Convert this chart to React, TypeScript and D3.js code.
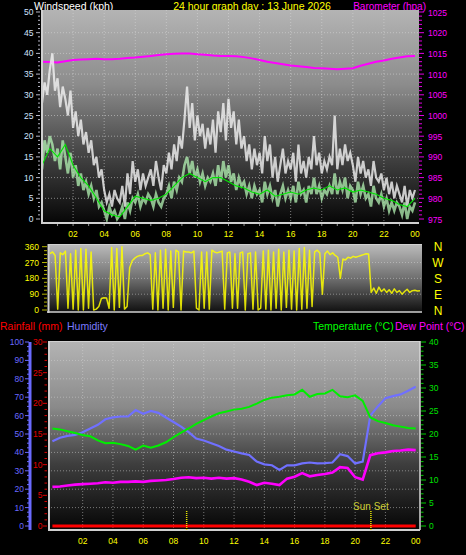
import React from "react";
import * as d3 from "d3";

// ---------- data ----------
const hourTickValues = [2, 4, 6, 8, 10, 12, 14, 16, 18, 20, 22, 24];
const hourTickLabels = ["02", "04", "06", "08", "10", "12", "14", "16", "18", "20", "22", "00"];

// wind gust (kph), every 10 minutes, 00:00 .. 24:00
const windGust = [
  28, 33, 30, 36, 40, 31,
  34, 27, 32, 29, 25, 31,
  22, 26, 20, 24, 18, 21,
  16, 19, 13, 15, 10, 12,
  7, 4, 6, 3, 7, 5,
  4, 8, 3, 11, 6, 14,
  9, 12, 7, 11, 8, 10,
  12, 8, 14, 10, 7, 13,
  11, 16, 12, 18, 14, 20,
  17, 24, 32, 22, 28, 19,
  25, 20, 23, 17, 22, 18,
  24, 16, 26, 21, 28, 19,
  29, 22, 26, 18, 24, 17,
  20, 14, 18, 12, 17, 13,
  16, 11, 20, 14, 18, 10,
  15, 9, 13, 17, 11, 14,
  12, 16, 9, 18, 11, 14,
  10, 15, 12, 20, 13, 16,
  11, 14, 12, 15, 13, 25,
  12, 17, 13, 18, 14, 16,
  13, 9, 15, 11, 14, 10,
  12, 8, 14, 10, 9, 11,
  7, 10, 6, 9, 5, 8,
  6, 4, 8, 3, 7, 5,
  7,
];

// wind speed (kph), every 10 minutes
const windSpeed = [
  12, 19, 16, 20, 18, 14,
  17, 12, 19, 15, 11, 16,
  10, 13, 8, 11, 7, 9,
  6, 8, 5, 7, 3, 4,
  2, 0, 3, 1, 2, 0,
  1, 3, 0, 4, 2, 5,
  4, 6, 3, 5, 4, 6,
  5, 3, 6, 4, 3, 5,
  6, 8, 5, 9, 7, 10,
  9, 13, 15, 11, 14, 10,
  12, 9, 11, 8, 10, 9,
  11, 8, 13, 9, 14, 10,
  13, 9, 11, 7, 10, 8,
  9, 6, 8, 5, 8, 6,
  7, 4, 9, 6, 8, 5,
  7, 3, 6, 8, 5, 7,
  5, 8, 4, 9, 6, 7,
  4, 8, 6, 10, 6, 8,
  5, 7, 6, 8, 6, 11,
  6, 9, 7, 10, 5, 8,
  7, 4, 9, 6, 8, 5,
  6, 3, 8, 5, 4, 6,
  3, 5, 2, 4, 2, 4,
  3, 1, 4, 0, 3, 2,
  4,
];

// average wind (kph), every 30 minutes
const windAverage = [
  13, 17, 15, 18, 13, 10, 8, 5, 2, 1, 0.5, 3, 5.5, 5, 4.5, 5, 6, 8, 10, 11, 10, 9, 10, 10,
  9, 8, 7.5, 6.5, 6, 7, 5.5, 6, 6.5, 6, 7, 7.5, 7, 8, 7, 7.5, 6.5, 7, 6.5, 6, 5, 4.5, 3.5, 3, 5,
];

// barometer (hPa), every 30 minutes
const barometer = [
  1013.0, 1012.9, 1012.8, 1013.1, 1013.4, 1013.5, 1013.6, 1013.7, 1013.6, 1013.6, 1013.7, 1013.9,
  1014.0, 1014.2, 1014.4, 1014.6, 1014.8, 1014.9, 1015.0, 1015.0, 1014.8, 1014.7, 1014.5, 1014.4,
  1014.4, 1014.3, 1014.1, 1013.8, 1013.4, 1013.0, 1012.7, 1012.4, 1012.1, 1011.9, 1011.7, 1011.5,
  1011.4, 1011.3, 1011.2, 1011.3, 1011.4, 1012.0, 1012.5, 1013.0, 1013.3, 1013.7, 1014.0, 1014.3,
  1014.4,
];

// wind direction (degrees), every 10 minutes
const windDirection = [
  320, 330, 310, 5, 325, 315,
  335, 10, 320, 5, 340, 0,
  350, 0, 345, 10, 330, 0,
  5, 20, 65, 70, 68, 10,
  355, 0, 350, 15, 360, 5,
  20, 240, 280, 295, 305, 310,
  310, 320, 325, 315, 5, 325,
  0, 340, 10, 345, 0, 335,
  15, 340, 330, 0, 335, 330,
  330, 325, 335, 10, 0, 330,
  10, 330, 5, 340, 330, 325,
  330, 335, 5, 325, 330, 10,
  320, 10, 325, 330, 0, 320,
  325, 5, 330, 0, 10, 335,
  5, 340, 0, 330, 10, 345,
  0, 330, 15, 340, 5, 335,
  0, 350, 5, 355, 10, 340,
  20, 330, 340, 325, 90, 320,
  335, 315, 325, 310, 300, 180,
  290, 285, 300, 295, 305, 300,
  305, 310, 315, 320, 318, 100,
  125, 95, 130, 105, 120, 100,
  115, 95, 120, 100, 110, 90,
  105, 118, 100, 110, 112, 108,
  110,
];

// temperature (°C), every 30 minutes
const temperature = [
  21.2, 21.0, 20.6, 20.2, 19.8, 19.5, 18.6, 18.0, 18.1, 17.8, 17.4, 16.6, 17.5, 17.0, 17.5, 18.2,
  19.3, 20.3, 21.2, 22.2, 23.0, 23.8, 24.5, 24.9, 25.3, 25.5, 25.9, 26.6, 27.4, 27.9, 28.1, 28.4,
  28.6, 29.6, 28.1, 28.7, 28.8, 29.6, 28.2, 28.0, 28.4, 27.2, 23.6, 22.8, 22.4, 21.9, 21.6, 21.3,
  21.2,
];

// humidity (%), every 30 minutes
const humidity = [
  46, 48, 49, 49.5, 51, 53, 55, 58, 59, 59.5, 59.5, 63, 61, 62.5, 61.5, 59, 56.5, 54, 51, 47.5,
  46.5, 45, 43.5, 41.5, 40.5, 39.5, 38.6, 35, 33.5, 33, 30.5, 33, 33, 34, 34.5, 34, 34.2, 34.5,
  39, 38, 34, 35, 60, 65, 69.5, 70.6, 71.5, 73.5, 75.7,
];

// dew point (°C), every 30 minutes
const dewPoint = [
  8.5, 8.6, 8.8, 9.0, 9.1, 9.2, 9.3, 9.5, 9.4, 9.6, 9.6, 9.7, 9.6, 9.8, 9.9, 10.0, 10.2, 10.5,
  10.6, 10.4, 10.5, 10.3, 10.5, 10.3, 10.4, 10.1, 9.6, 8.9, 9.4, 9.2, 8.9, 10.3, 10.7, 11.5, 10.8,
  11.1, 11.3, 11.6, 12.8, 12.6, 10.6, 10.1, 15.4, 15.8, 16.0, 16.3, 16.4, 16.6, 16.5,
];

// rainfall (mm), hourly
const rainfall = [0, 0, 0, 0, 0, 0, 0, 0, 0, 0, 0, 0, 0, 0, 0, 0, 0, 0, 0, 0, 0, 0, 0, 0, 0];

const sunriseHour = 8.87;
const sunsetHour = 21.04;

const compassDegrees = [360, 270, 180, 90, 0];
const compassLabels = ["N", "W", "S", "E", "N"];

// ---------- chart ----------
const FONT = "'Liberation Sans', Arial, sans-serif";

export default function App() {
  const xTop = d3.scaleLinear().domain([0, 24]).range([42, 415]);
  const yWind = d3.scaleLinear().domain([0, 50]).range([219, 12]);
  const yBaro = d3.scaleLinear().domain([975, 1025]).range([219, 12]);

  const xMid = d3.scaleLinear().domain([0, 24]).range([50, 420]);
  const yDir = d3.scaleLinear().domain([0, 360]).range([310, 246.7]);

  const xBot = d3.scaleLinear().domain([0, 24]).range([52.4, 415.7]);
  const yHum = d3.scaleLinear().domain([0, 100]).range([526, 342]);
  const yRain = d3.scaleLinear().domain([0, 30]).range([526, 342]);
  const yTemp = d3.scaleLinear().domain([0, 40]).range([526, 342]);

  const series = (xs: any, ys: any, step: number) =>
    d3
      .line<number>()
      .x((_, i) => xs(i * step))
      .y((d) => ys(d));

  const gustPath = series(xTop, yWind, 1 / 6)(windGust) || "";
  const speedPath = series(xTop, yWind, 1 / 6)(windSpeed) || "";
  const avgPath = series(xTop, yWind, 0.5)(windAverage) || "";
  const baroPath = series(xTop, yBaro, 0.5)(barometer) || "";
  const dirPath = series(xMid, yDir, 1 / 6)(windDirection) || "";
  const tempPath = series(xBot, yTemp, 0.5)(temperature) || "";
  const humPath = series(xBot, yHum, 0.5)(humidity) || "";
  const dewPath = series(xBot, yTemp, 0.5)(dewPoint) || "";
  const rainPath = series(xBot, yRain, 1)(rainfall) || "";

  const gridColor = "#d8d8d8";
  const hourGrid = hourTickValues.filter((h) => h < 24);

  return (
    <svg
      width={466}
      height={555}
      style={{ position: "absolute", left: 0, top: 0, display: "block" }}
      fontFamily={FONT}
    >
      <defs>
        <linearGradient id="bgTop" x1="0" y1="0" x2="0" y2="1">
          <stop offset="0%" stopColor="#b4b4b4" />
          <stop offset="35%" stopColor="#8c8c8c" />
          <stop offset="65%" stopColor="#4a4a4a" />
          <stop offset="100%" stopColor="#060606" />
        </linearGradient>
        <linearGradient id="bgMid" x1="0" y1="0" x2="0" y2="1">
          <stop offset="0%" stopColor="#bcbcbc" />
          <stop offset="50%" stopColor="#707070" />
          <stop offset="100%" stopColor="#101010" />
        </linearGradient>
        <linearGradient id="bgBot" x1="0" y1="0" x2="0" y2="1">
          <stop offset="0%" stopColor="#b4b4b4" />
          <stop offset="35%" stopColor="#8a8a8a" />
          <stop offset="65%" stopColor="#3e3e3e" />
          <stop offset="100%" stopColor="#050505" />
        </linearGradient>
        <clipPath id="clipTop">
          <rect x={42} y={10} width={377} height={213} />
        </clipPath>
        <clipPath id="clipMid">
          <rect x={48} y={244} width={374} height={68} />
        </clipPath>
        <clipPath id="clipBot">
          <rect x={48} y={341} width={372} height={189} />
        </clipPath>
      </defs>

      <rect x={0} y={0} width={466} height={555} fill="#000" />

      {/* ---------- titles ---------- */}
      <text x={34} y={9.5} fontSize={10.5} fill="#ffffff">Windspeed (kph)</text>
      <text x={252} y={9.5} fontSize={10.5} fill="#ffff00" textAnchor="middle">
        24 hour graph day : 13 June 2026
      </text>
      <text x={426} y={9.5} fontSize={10} fill="#ff00ff" textAnchor="end">Barometer (hpa)</text>

      {/* ---------- top panel ---------- */}
      <rect x={42} y={10} width={377} height={213} fill="url(#bgTop)" />
      {yWind.ticks(10).filter((v) => v > 0 && v < 50).map((v) => (
        <line key={"hg" + v} x1={42} x2={419} y1={yWind(v)} y2={yWind(v)} stroke={gridColor} strokeOpacity={0.55} strokeDasharray="1,2" />
      ))}
      {hourGrid.map((h) => (
        <line key={"vg" + h} x1={xTop(h)} x2={xTop(h)} y1={10} y2={222} stroke={gridColor} strokeOpacity={0.55} strokeDasharray="1,2" />
      ))}
      <g clipPath="url(#clipTop)">
        <path d={baroPath} fill="none" stroke="#ff00ff" strokeWidth={2} />
        <path d={gustPath} fill="none" stroke="#f4f4f4" strokeOpacity={0.8} strokeWidth={2.2} />
        <path d={speedPath} fill="none" stroke="#b4f4b4" strokeOpacity={0.75} strokeWidth={2.6} />
        <path d={avgPath} fill="none" stroke="#00e600" strokeWidth={1.1} />
      </g>
      <line x1={42} x2={42} y1={10} y2={224} stroke="#d0d0d0" strokeWidth={2} />
      <line x1={41} x2={419} y1={223} y2={223} stroke="#d0d0d0" strokeWidth={2} />
      {/* left wind axis */}
      {d3.range(0, 51, 1).map((v) => (
        <line key={"wt" + v} x1={v % 5 === 0 ? 36 : 38} x2={40} y1={yWind(v)} y2={yWind(v)} stroke="#b8b8c8" strokeWidth={1} />
      ))}
      {yWind.ticks(10).map((v) => (
        <text key={"wl" + v} x={33.5} y={yWind(v) + 3} fontSize={8.5} fill="#d2e4ff" textAnchor="end">{v}</text>
      ))}
      {/* right barometer axis */}
      {d3.range(975, 1026, 1).map((v) => (
        <line key={"bt" + v} x1={419} x2={v % 5 === 0 ? 424 : 422} y1={yBaro(v)} y2={yBaro(v)} stroke="#e000e0" strokeWidth={1} />
      ))}
      {yBaro.ticks(10).map((v) => (
        <text key={"bl" + v} x={428} y={yBaro(v) + 3.5} fontSize={8.5} fill="#ff00ff">{v}</text>
      ))}
      {d3.range(1, 24, 1).map((h) => (
        <line key={"ht" + h} x1={xTop(h)} x2={xTop(h)} y1={224} y2={226} stroke="#909090" />
      ))}
      {hourTickValues.map((h, i) => (
        <text key={"tx" + h} x={xTop(h)} y={237} fontSize={8.5} fill="#ffff00" textAnchor="middle">{hourTickLabels[i]}</text>
      ))}

      {/* ---------- middle panel (wind direction) ---------- */}
      <rect x={48} y={244} width={374} height={68} fill="url(#bgMid)" />
      {[90, 180, 270].map((v) => (
        <line key={"dg" + v} x1={48} x2={422} y1={yDir(v)} y2={yDir(v)} stroke={gridColor} strokeOpacity={0.5} strokeDasharray="1,2" />
      ))}
      <g clipPath="url(#clipMid)">
        <path d={dirPath} fill="none" stroke="#ffff00" strokeOpacity={0.85} strokeWidth={1.5} strokeLinejoin="round" />
      </g>
      <line x1={48} x2={422} y1={244.5} y2={244.5} stroke="#d0d0d0" strokeWidth={1} />
      <line x1={48.5} x2={48.5} y1={244} y2={313} stroke="#d0d0d0" strokeWidth={2} />
      <line x1={47} x2={422} y1={312} y2={312} stroke="#d0d0d0" strokeWidth={1.5} />
      {d3.range(0, 361, 22.5).map((v) => (
        <line key={"dt" + v} x1={v % 90 === 0 ? 42 : 44} x2={47} y1={yDir(v)} y2={yDir(v)} stroke="#b4b400" strokeWidth={1} />
      ))}
      {[0, 90, 180, 270, 360].map((v) => (
        <text key={"dl" + v} x={39} y={yDir(v) + 3} fontSize={8.5} fill="#ffff00" textAnchor="end">{v}</text>
      ))}
      {compassDegrees.map((v, i) => (
        <text key={"cl" + i} x={438} y={yDir(v) + 4.5} fontSize={12} fill="#ffff00" textAnchor="middle">{compassLabels[i]}</text>
      ))}

      {/* ---------- bottom panel legends ---------- */}
      <text x={0} y={330} fontSize={10.5} fill="#ff0000">Rainfall (mm)</text>
      <text x={67} y={330} fontSize={10.5} fill="#7b7bff">Humidity</text>
      <text x={313} y={330} fontSize={10.5} fill="#00ff00">Temperature (°C)</text>
      <text x={395} y={330} fontSize={10.5} fill="#ff00ff">Dew Point (°C)</text>

      {/* ---------- bottom panel ---------- */}
      <rect x={48} y={341} width={372} height={189} fill="url(#bgBot)" />
      {yHum.ticks(10).filter((v) => v > 0 && v < 100).map((v) => (
        <line key={"bg" + v} x1={48} x2={420} y1={yHum(v)} y2={yHum(v)} stroke={gridColor} strokeOpacity={0.5} strokeDasharray="1,2" />
      ))}
      {hourGrid.map((h) => (
        <line key={"bvg" + h} x1={xBot(h)} x2={xBot(h)} y1={341} y2={529} stroke={gridColor} strokeOpacity={0.5} strokeDasharray="1,2" />
      ))}
      <g clipPath="url(#clipBot)">
        <path d={dewPath} fill="none" stroke="#ff00ff" strokeWidth={2.6} />
        <path d={humPath} fill="none" stroke="#7070ff" strokeWidth={2.2} />
        <path d={tempPath} fill="none" stroke="#00ee00" strokeWidth={2} />
        <path d={rainPath} fill="none" stroke="#ff0000" strokeWidth={3} />
      </g>
      <line x1={48} x2={420} y1={341.5} y2={341.5} stroke="#d0d0d0" strokeWidth={1} />
      <line x1={420} x2={420} y1={341} y2={530} stroke="#d8d8d8" strokeWidth={1.5} />
      <line x1={49} x2={49} y1={341} y2={531} stroke="#d0d0d0" strokeWidth={2} />
      <line x1={48} x2={420} y1={530} y2={530} stroke="#d0d0d0" strokeWidth={2} />

      {/* sunrise / sunset */}
      <line x1={xBot(sunriseHour)} x2={xBot(sunriseHour)} y1={511} y2={530} stroke="#e8e800" strokeWidth={1.5} strokeDasharray="1,1" />
      <line x1={xBot(sunsetHour)} x2={xBot(sunsetHour)} y1={511} y2={530} stroke="#e8e800" strokeWidth={1.5} strokeDasharray="1,1" />
      <text x={xBot(sunsetHour)} y={510} fontSize={10} fill="#cccc33" textAnchor="middle">Sun Set</text>

      {/* humidity axis */}
      <line x1={30} x2={30} y1={342} y2={530} stroke="#6a6aff" strokeWidth={3} />
      {d3.range(0, 101, 2.5).map((v) => (
        <line key={"hut" + v} x1={v % 10 === 0 ? 25 : 27} x2={29} y1={yHum(v)} y2={yHum(v)} stroke="#6a6aff" strokeWidth={1} />
      ))}
      {yHum.ticks(10).map((v) => (
        <text key={"hul" + v} x={24} y={yHum(v) + 3} fontSize={8.5} fill="#6a6aff" textAnchor="end">{v}</text>
      ))}
      {/* rainfall axis */}
      {d3.range(0, 31, 1).map((v) => (
        <line key={"rt" + v} x1={v % 5 === 0 ? 43 : 44.5} x2={47} y1={yRain(v)} y2={yRain(v)} stroke="#dd0000" strokeWidth={1} />
      ))}
      {yRain.ticks(6).map((v) => (
        <text key={"rl" + v} x={42.5} y={yRain(v) + 3} fontSize={8.5} fill="#e00000" textAnchor="end">{v}</text>
      ))}
      {/* temperature axis */}
      {d3.range(0, 41, 1).map((v) => (
        <line key={"tt" + v} x1={421} x2={v % 5 === 0 ? 426 : 423.5} y1={yTemp(v)} y2={yTemp(v)} stroke="#00cc00" strokeWidth={1} />
      ))}
      {yTemp.ticks(8).map((v) => (
        <text key={"tl" + v} x={429} y={yTemp(v) + 3} fontSize={8.5} fill="#00e000">{v}</text>
      ))}
      {hourTickValues.map((h, i) => (
        <text key={"bx" + h} x={xBot(h)} y={544} fontSize={8.5} fill="#ffff00" textAnchor="middle">{hourTickLabels[i]}</text>
      ))}
    </svg>
  );
}
